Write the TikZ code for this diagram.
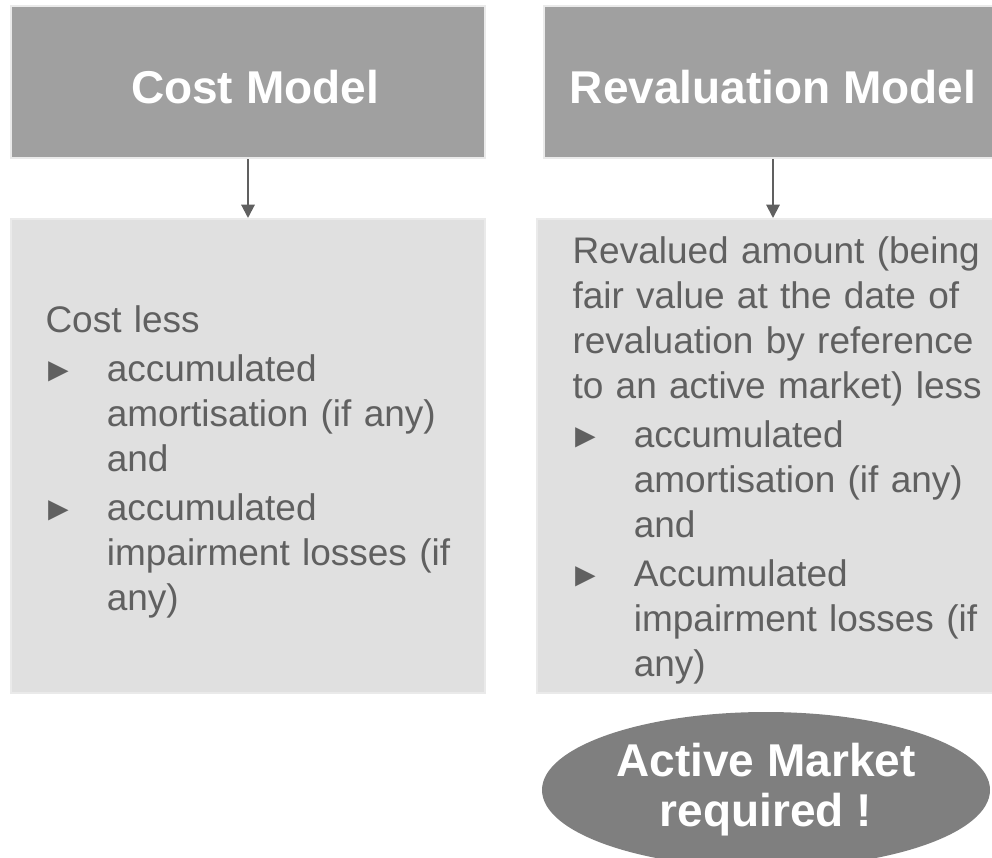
\documentclass[tikz,border=0pt]{standalone}
\usepackage{fontspec}
\setmainfont{Liberation Sans}
\usetikzlibrary{shapes.geometric,arrows.meta}

\definecolor{hdgray}{RGB}{160,160,160}
\definecolor{bodygray}{RGB}{224,224,224}
\definecolor{edgegray}{RGB}{234,234,234}
\definecolor{ovalgray}{RGB}{127,127,127}
\definecolor{txtgray}{RGB}{96,96,96}

% bullet item: triangle in a fixed column, wrapped lines hang under the text
\newcommand{\bitem}[1]{\par\hangindent=46pt\hangafter=1\noindent
  \makebox[46pt][l]{\hspace{-3pt}\scalebox{0.92}{►}}#1}

\tikzset{every picture/.style={line width=0.75pt}}

\begin{document}
\begin{tikzpicture}[x=0.75pt,y=0.75pt,yscale=-1,xscale=1,
    header/.style={fill=hdgray, draw=edgegray, line width=1.5pt, inner sep=0pt,
      minimum height=114pt, text=white, text height=31.5pt, text depth=0pt,
      font=\fontsize{34.5}{41}\selectfont\bfseries},
    bodybox/.style={fill=bodygray, draw=edgegray, line width=1.5pt,
      minimum height=355.5pt},
    bodytext/.style={anchor=north west, inner sep=0pt, text width=330pt,
      align=left, text=txtgray,
      font=\fontsize{27.75}{33.75}\selectfont\setlength{\parskip}{3pt}},
    flow/.style={draw=txtgray, line width=1.5pt, -{Triangle[width=10pt,length=10pt]}}]
  \clip (0,0) rectangle (992,857);

  % column headers
  \node[header, minimum width=355.5pt] (hdcost) at (248,82) {\hspace*{10.5pt}Cost Model};
  \node[header, minimum width=343.5pt] (hdreval) at (773,82) {Revaluation Model};

  % measurement boxes
  \node[bodybox, minimum width=355.5pt] (bodycost) at (248,456) {};
  \node[bodybox, minimum width=354pt] (bodyreval) at (773,456) {};

  \node[bodytext] (costtext) at (45,305) {%
    \noindent Cost less
    \bitem{accumulated\newline amortisation (if any)\newline and}
    \bitem{accumulated\newline impairment losses (if\newline any)}\par};
  \node[bodytext] (revaltext) at (572,236) {%
    \noindent Revalued amount (being\newline fair value at the date of\newline
    revaluation by reference\newline to an active market) less
    \bitem{accumulated\newline amortisation (if any)\newline and}
    \bitem{Accumulated\newline impairment losses (if\newline any)}\par};

  \draw[flow] (hdcost) -- (bodycost);
  \draw[flow] (hdreval) -- (bodyreval);

  % condition under the revaluation column
  \node[ellipse, fill=ovalgray, inner sep=0pt, minimum width=336pt, minimum height=117pt,
    align=center, text=white, font=\fontsize{34.5}{37.5}\selectfont\bfseries]
    (market) at (766,790) {Active Market\\required !};
\end{tikzpicture}
\end{document}
